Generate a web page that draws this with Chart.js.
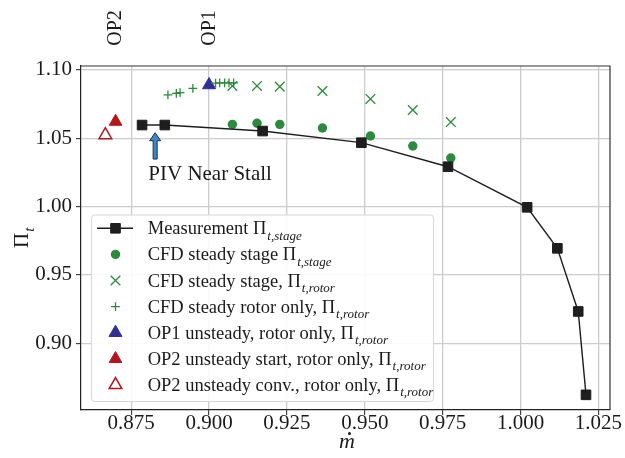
<!DOCTYPE html>
<html>
<head>
<meta charset="utf-8">
<script src="https://cdn.jsdelivr.net/npm/chart.js@4.4.0/dist/chart.umd.min.js"></script>
<style>
    html, body { margin: 0; padding: 0; background: #ffffff; }
    #wrap { width: 625px; height: 458px; position: relative; }
</style>
</head>
<body>
<div id="wrap"><canvas id="piChart" width="625" height="458"></canvas></div>
<script>
// Measurement, stage total pressure ratio
const measMdot = [0.8785, 0.8858, 0.9172, 0.9489, 0.9767, 1.0021, 1.0118, 1.0185, 1.0210];
const measPi   = [1.0597, 1.0597, 1.0553, 1.0468, 1.0292, 0.9995, 0.9695, 0.9233, 0.8623];

// CFD steady stage, stage and rotor ratio
const cfdStageMdot    = [0.9075, 0.9154, 0.9227, 0.9364, 0.9518, 0.9654, 0.9776];
const cfdStagePi      = [1.0602, 1.0610, 1.0602, 1.0575, 1.0517, 1.0444, 1.0356];
const cfdStageRotorPi = [1.0883, 1.0883, 1.0878, 1.0846, 1.0788, 1.0707, 1.0619];

// CFD steady rotor only
const cfdRotorMdot = [0.8868, 0.8895, 0.8907, 0.8948, 0.9021, 0.9034, 0.9050, 0.9064, 0.9079];
const cfdRotorPi   = [1.0817, 1.0829, 1.0834, 1.0866, 1.0903, 1.0905, 1.0905, 1.0905, 1.0905];

// unsteady operating points
const op1Mdot = [0.9000];      const op1Pi = [1.0890];
const op2StartMdot = [0.8700]; const op2StartPi = [1.0622];
const op2ConvMdot = [0.8667];  const op2ConvPi = [1.0524];

// axis ticks
const xTicks = [0.875, 0.900, 0.925, 0.950, 0.975, 1.000, 1.025];
const yTicks = [0.90, 0.95, 1.00, 1.05, 1.10];

// operating point labels above the plot
const opLabels = ['OP2', 'OP1'];
const opLabelMdot = [0.8695, 0.8997];

// PIV annotation
const pivText = 'PIV Near Stall';
const pivTip = [0.8827, 1.0541];
const pivTail = [0.8827, 1.0348];
const pivTextPos = [0.8805, 1.0195];

const SERIF = "'Liberation Serif', 'DejaVu Serif', serif";
const GREEN = '#2b8a3c';
const BLACK = '#1e1e1e';
const BLUE = '#2f2f96';
const RED = '#b8141c';

function pts(xs, ys) {
    return xs.map((x, i) => ({ x: x, y: ys[i] }));
}

// draw a marker the same way for the legend
function drawMarker(ctx, style, x, y, r, fill, stroke, lw) {
    ctx.save();
    ctx.fillStyle = fill;
    ctx.strokeStyle = stroke;
    ctx.lineWidth = lw;
    ctx.beginPath();
    if (style === 'rect') {
        const s = Math.SQRT1_2 * r;
        ctx.rect(x - s, y - s, 2 * s, 2 * s);
        ctx.fill();
        ctx.stroke();
    } else if (style === 'circle') {
        ctx.arc(x, y, r, 0, Math.PI * 2);
        ctx.fill();
    } else if (style === 'crossRot') {
        const o = Math.SQRT1_2 * r;
        ctx.moveTo(x - o, y - o); ctx.lineTo(x + o, y + o);
        ctx.moveTo(x - o, y + o); ctx.lineTo(x + o, y - o);
        ctx.stroke();
    } else if (style === 'cross') {
        ctx.moveTo(x - r, y); ctx.lineTo(x + r, y);
        ctx.moveTo(x, y - r); ctx.lineTo(x, y + r);
        ctx.stroke();
    } else if (style === 'triangle') {
        const w = r * Math.sin(Math.PI / 3);
        ctx.moveTo(x, y - r);
        ctx.lineTo(x + w, y + r / 2);
        ctx.lineTo(x - w, y + r / 2);
        ctx.closePath();
        if (fill !== 'transparent') ctx.fill();
        ctx.stroke();
    }
    ctx.restore();
}

// text followed by Π with an italic subscript
function drawPiText(ctx, x, y, text, sub, size) {
    ctx.font = size + 'px ' + SERIF;
    ctx.fillText(text + 'Π', x, y);
    const w = ctx.measureText(text + 'Π').width;
    ctx.font = 'italic ' + Math.round(size * 0.7) + 'px ' + SERIF;
    ctx.fillText(sub, x + w + 1, y + size * 0.3);
    return x + w + 1 + ctx.measureText(sub).width;
}

const datasets = [
    {
        label: 'Measurement ', sub: 't,stage',
        data: pts(measMdot, measPi),
        showLine: true,
        borderColor: BLACK, borderWidth: 1.4,
        backgroundColor: BLACK,
        pointStyle: 'rect', pointRadius: 6.8,
        pointBackgroundColor: BLACK, pointBorderColor: BLACK, pointBorderWidth: 1
    },
    {
        label: 'CFD steady stage ', sub: 't,stage',
        data: pts(cfdStageMdot, cfdStagePi),
        pointStyle: 'circle', pointRadius: 4.7,
        backgroundColor: GREEN, borderColor: GREEN, pointBorderWidth: 0
    },
    {
        label: 'CFD steady stage, ', sub: 't,rotor',
        data: pts(cfdStageMdot, cfdStageRotorPi),
        pointStyle: 'crossRot', pointRadius: 6.8,
        backgroundColor: GREEN, borderColor: GREEN, pointBorderWidth: 1.3
    },
    {
        label: 'CFD steady rotor only, ', sub: 't,rotor',
        data: pts(cfdRotorMdot, cfdRotorPi),
        pointStyle: 'cross', pointRadius: 4.4,
        backgroundColor: GREEN, borderColor: GREEN, pointBorderWidth: 1.3
    },
    {
        label: 'OP1 unsteady, rotor only, ', sub: 't,rotor',
        data: pts(op1Mdot, op1Pi),
        pointStyle: 'triangle', pointRadius: 7.5,
        backgroundColor: BLUE, borderColor: BLUE, pointBorderWidth: 1
    },
    {
        label: 'OP2 unsteady start, rotor only, ', sub: 't,rotor',
        data: pts(op2StartMdot, op2StartPi),
        pointStyle: 'triangle', pointRadius: 7.3,
        backgroundColor: RED, borderColor: RED, pointBorderWidth: 1
    },
    {
        label: 'OP2 unsteady conv., rotor only, ', sub: 't,rotor',
        data: pts(op2ConvMdot, op2ConvPi),
        pointStyle: 'triangle', pointRadius: 7.3,
        backgroundColor: 'transparent', borderColor: RED, pointBorderWidth: 1.5
    }
];

// frame, titles, annotation and legend
const extras = {
    id: 'extras',
    afterDraw(chart) {
        const ctx = chart.ctx;
        const xs = chart.scales.x, ys = chart.scales.y;
        const area = chart.chartArea;

        // top and right spines
        ctx.save();
        ctx.strokeStyle = '#333';
        ctx.lineWidth = 1.2;
        ctx.beginPath();
        ctx.moveTo(area.left, area.top); ctx.lineTo(area.right, area.top);
        ctx.lineTo(area.right, area.bottom);
        ctx.stroke();
        ctx.restore();

        ctx.save();
        ctx.fillStyle = '#1a1a1a';
        ctx.textBaseline = 'alphabetic';

        // OP labels, rotated
        ctx.font = '20px ' + SERIF;
        opLabels.forEach((t, i) => {
            ctx.save();
            ctx.translate(xs.getPixelForValue(opLabelMdot[i]) + 7, 28);
            ctx.rotate(-Math.PI / 2);
            ctx.textAlign = 'center';
            ctx.fillText(t, 0, 0);
            ctx.restore();
        });

        // axis titles
        ctx.save();
        ctx.translate(28, 248);
        ctx.rotate(-Math.PI / 2);
        drawPiText(ctx, 0, 0, '', 't', 21);
        ctx.restore();

        // m-dot: italic m with a dot above
        ctx.font = 'italic 22px ' + SERIF;
        ctx.textAlign = 'center';
        ctx.fillText('m', 347, 448);
        ctx.beginPath();
        ctx.arc(349.5, 433.5, 1.5, 0, Math.PI * 2);
        ctx.fill();
        ctx.textAlign = 'left';

        // PIV arrow
        const ax = xs.getPixelForValue(pivTip[0]);
        const tipY = ys.getPixelForValue(pivTip[1]);
        const tailY = ys.getPixelForValue(pivTail[1]);
        const headY = tipY + 8;
        ctx.save();
        ctx.fillStyle = '#3a89c9';
        ctx.strokeStyle = '#1d2f44';
        ctx.lineWidth = 1;
        ctx.beginPath();
        ctx.moveTo(ax - 2, tailY);
        ctx.lineTo(ax - 2, headY);
        ctx.lineTo(ax - 5.5, headY);
        ctx.lineTo(ax, tipY);
        ctx.lineTo(ax + 5.5, headY);
        ctx.lineTo(ax + 2, headY);
        ctx.lineTo(ax + 2, tailY);
        ctx.closePath();
        ctx.fill();
        ctx.stroke();
        ctx.restore();

        ctx.font = '21px ' + SERIF;
        ctx.fillText(pivText, xs.getPixelForValue(pivTextPos[0]), ys.getPixelForValue(pivTextPos[1]));

        // legend
        const lx = 91.5, ly = 215, rowH = 26.1;
        let maxW = 0;
        datasets.forEach(d => {
            ctx.font = '18px ' + SERIF;
            let w = ctx.measureText(d.label + 'Π').width;
            ctx.font = 'italic 13px ' + SERIF;
            w += ctx.measureText(d.sub).width + 1;
            maxW = Math.max(maxW, w);
        });
        const boxW = 147.7 - lx + maxW + 7;
        const boxH = 186.5;
        ctx.save();
        ctx.fillStyle = 'rgba(255,255,255,0.9)';
        ctx.strokeStyle = '#d6d6d6';
        ctx.lineWidth = 1;
        ctx.beginPath();
        ctx.roundRect(lx, ly, boxW, boxH, 3);
        ctx.fill();
        ctx.stroke();
        ctx.restore();

        datasets.forEach((d, i) => {
            const cy = ly + 13.3 + i * rowH;
            const mx = 115.5;
            if (i === 0) {
                ctx.save();
                ctx.strokeStyle = BLACK;
                ctx.lineWidth = 1.4;
                ctx.beginPath();
                ctx.moveTo(97, cy); ctx.lineTo(133, cy);
                ctx.stroke();
                ctx.restore();
            }
            drawMarker(ctx, d.pointStyle, mx, cy, d.pointRadius,
                d.backgroundColor, d.borderColor, d.pointBorderWidth || 1);
            ctx.fillStyle = '#1a1a1a';
            drawPiText(ctx, 147.7, cy + 6, d.label, d.sub, 18.5);
        });
        ctx.restore();
    }
};

Chart.defaults.font.family = SERIF;
Chart.defaults.color = '#1a1a1a';

new Chart(document.getElementById('piChart'), {
    type: 'scatter',
    data: { datasets: datasets },
    options: {
        responsive: false,
        animation: false,
        devicePixelRatio: 1,
        layout: { padding: { top: 66, right: 15, left: 0, bottom: 0 } },
        plugins: {
            legend: { display: false },
            tooltip: { enabled: false }
        },
        scales: {
            x: {
                type: 'linear',
                min: 0.8589,
                max: 1.0287,
                afterBuildTicks: s => { s.ticks = xTicks.map(v => ({ value: v })); },
                afterFit: s => { s.height = 48; },
                ticks: {
                    callback: v => v.toFixed(3),
                    font: { size: 21 },
                    color: '#1a1a1a',
                    padding: -4,
                    maxRotation: 0,
                    autoSkip: false
                },
                grid: { color: '#cccccc', lineWidth: 1.3, tickLength: 5, tickColor: '#222', tickWidth: 1 },
                border: { color: '#222', width: 1.2 }
            },
            y: {
                type: 'linear',
                min: 0.8512,
                max: 1.1029,
                afterBuildTicks: s => { s.ticks = yTicks.map(v => ({ value: v })); },
                afterFit: s => { s.width = 81; },
                ticks: {
                    callback: v => v.toFixed(2),
                    font: { size: 21 },
                    color: '#1a1a1a',
                    padding: 4,
                    autoSkip: false
                },
                grid: { color: '#cccccc', lineWidth: 1.3, tickLength: 5, tickColor: '#222', tickWidth: 1 },
                border: { color: '#222', width: 1.2 }
            }
        }
    },
    plugins: [extras]
});
</script>
</body>
</html>
